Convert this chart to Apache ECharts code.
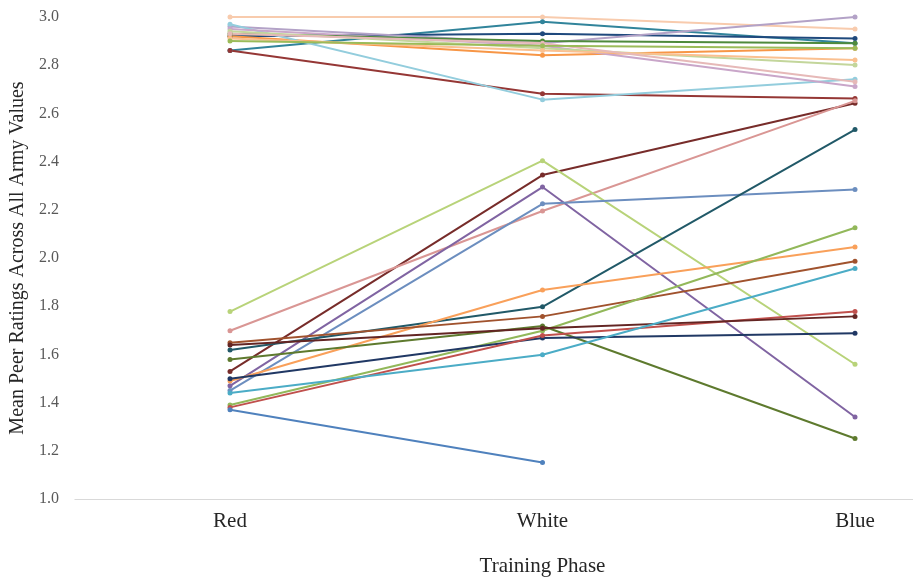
<!DOCTYPE html>
<html><head><meta charset="utf-8">
<script src="https://cdn.jsdelivr.net/npm/echarts@6/dist/echarts.min.js"></script>
<style>html,body{margin:0;padding:0;background:#fff}#c{width:913px;height:582px}</style>
</head><body><div id="c"></div>
<script>
var categories = ['Red', 'White', 'Blue'];
var yTicks = [1.0, 1.2, 1.4, 1.6, 1.8, 2.0, 2.2, 2.4, 2.6, 2.8, 3.0];

// top group
var s01 = [3.00, 3.00, 2.95];
var s02 = [2.86, 2.98, 2.89];
var s03 = [2.92, 2.93, 2.91];
var s04 = [2.96, 2.89, 3.00];
var s05 = [2.92, 2.84, 2.87];
var s06 = [2.86, 2.68, 2.66];
var s07 = [2.97, 2.655, 2.74];
var s08 = [2.95, 2.88, 2.71];
var s09 = [2.93, 2.90, 2.89];
var s10 = [2.94, 2.87, 2.80];
var s11 = [2.91, 2.86, 2.82];
var s12 = [2.93, 2.89, 2.73];
var s13 = [2.90, 2.88, 2.87];
// lower group
var s14 = [1.52, 2.34, 2.64];
var s15 = [1.69, 2.19, 2.65];
var s16 = [1.77, 2.40, 1.55];
var s17 = [1.46, 2.29, 1.33];
var s18 = [1.44, 2.22, 2.28];
var s19 = [1.61, 1.79, 2.53];
var s20 = [1.48, 1.86, 2.04];
var s21 = [1.64, 1.75, 1.98];
var s22 = [1.57, 1.71, 1.24];
var s23 = [1.38, 1.69, 2.12];
var s24 = [1.49, 1.66, 1.68];
var s25 = [1.37, 1.67, 1.77];
var s26 = [1.63, 1.70, 1.75];
var s27 = [1.43, 1.59, 1.95];
var s28 = [1.36, 1.14, null];

var seriesData = [s01,s02,s03,s04,s05,s06,s07,s08,s09,s10,s11,s12,s13,s14,s15,s16,s17,s18,s19,s20,s21,s22,s23,s24,s25,s26,s27,s28];
var colors = ['#F8CBAD','#31849B','#1F497D','#B3A2C7','#F79646','#953735','#93CDDD','#C9A6C9','#4F8A3C','#C3D69B','#FAC090','#E6B9B8','#9BBB59',
  '#772C2A','#D99694','#B8D379','#8064A2','#6C8EBF','#215968','#F9A05A','#A0522D','#5E7A2E','#92B85A','#203864','#C0504D','#632523','#4BACC6','#4F81BD'];

var serif = 'Liberation Serif';
var chart = echarts.init(document.getElementById('c'));
var series = seriesData.map(function(d, i){
  return {type:'line', data:d, xAxisIndex:0, yAxisIndex:0, symbol:'circle', symbolSize:5, connectNulls:false,
    lineStyle:{width:2, color:colors[i]}, itemStyle:{color:colors[i]}, z: 2};
});
chart.setOption({
  animation:false,
  backgroundColor:'#fff',
  grid:[
    {left:230, right:58, top:17, bottom:83, containLabel:false},
    {left:74, right:0, top:17, bottom:83, containLabel:false}
  ],
  xAxis:[
    {type:'category', gridIndex:0, data:categories, boundaryGap:false,
      axisLine:{show:false}, axisTick:{show:false},
      axisLabel:{color:'#262626', fontFamily:serif, fontSize:21, margin:15},
      name:'Training Phase', nameLocation:'middle', nameGap:60,
      nameTextStyle:{color:'#262626', fontFamily:serif, fontSize:21}
    },
    {type:'value', gridIndex:1, min:0, max:1,
      axisLine:{show:true, lineStyle:{color:'#d9d9d9', width:1}},
      axisTick:{show:false}, axisLabel:{show:false}, splitLine:{show:false}
    }
  ],
  yAxis:[
    {type:'value', gridIndex:0, min:1.0, max:3.0, interval:0.2, show:false},
    {type:'value', gridIndex:1, min:1.0, max:3.0, interval:0.2,
      axisLine:{show:false}, axisTick:{show:false}, splitLine:{show:false},
      axisLabel:{color:'#595959', fontFamily:serif, fontSize:16, margin:16,
        formatter:function(v){return v.toFixed(1);}},
      name:'Mean Peer Ratings Across All Army Values', nameLocation:'middle', nameGap:46,
      nameTextStyle:{color:'#262626', fontFamily:serif, fontSize:20}
    }
  ],
  series:series
});
</script></body></html>
